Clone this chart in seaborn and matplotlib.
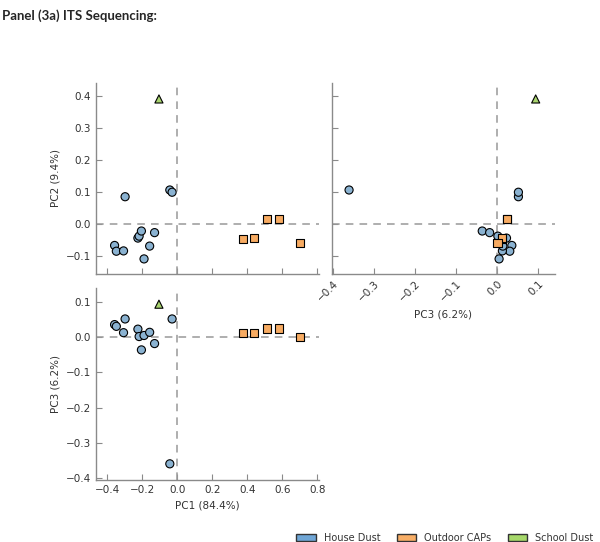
import pandas as pd
import numpy as np
import matplotlib
matplotlib.use('Agg')
import matplotlib.pyplot as plt
import matplotlib.patches as mpatches
import seaborn as sns

# Coordenadas PCoA (ITS)
house_pc1 = [-0.357, -0.347, -0.306, -0.297, -0.224, -0.217, -0.204, -0.189, -0.157, -0.129, -0.042, -0.029]
house_pc2 = [-0.067, -0.085, -0.084, 0.085, -0.044, -0.038, -0.022, -0.109, -0.069, -0.027, 0.106, 0.099]
house_pc3 = [0.036, 0.031, 0.013, 0.052, 0.023, 0.002, -0.036, 0.005, 0.014, -0.018, -0.360, 0.052]

caps_pc1 = [0.377, 0.44, 0.51, 0.58, 0.70]
caps_pc2 = [-0.047, -0.045, 0.015, 0.016, -0.058]
caps_pc3 = [0.012, 0.013, 0.025, 0.025, 0.001]

school_pc1 = [-0.104]
school_pc2 = [0.39]
school_pc3 = [0.094]

groups = ['House Dust', 'Outdoor CAPs', 'School Dust']
colors = {'House Dust': '#8ab2d1', 'Outdoor CAPs': '#f7ab62', 'School Dust': '#a9d46f'}
markers = {'House Dust': 'o', 'Outdoor CAPs': 's', 'School Dust': '^'}

df = pd.DataFrame({
    'PC1': house_pc1 + caps_pc1 + school_pc1,
    'PC2': house_pc2 + caps_pc2 + school_pc2,
    'PC3': house_pc3 + caps_pc3 + school_pc3,
    'grupo': ['House Dust'] * len(house_pc1) + ['Outdoor CAPs'] * len(caps_pc1) + ['School Dust'] * len(school_pc1),
})

sns.set_style('white')
plt.rcParams['font.family'] = ['DejaVu Sans']

fig = plt.figure(figsize=(6, 5.42), dpi=100)
ax1 = fig.add_axes([0.16, 0.4945, 0.372, 0.3525])   # PC1 vs PC2
ax2 = fig.add_axes([0.553, 0.4945, 0.372, 0.3525])  # PC3 vs PC2
ax3 = fig.add_axes([0.16, 0.1144, 0.372, 0.3542])   # PC1 vs PC3

spine_col = '#8a8a8a'
txt_col = '#333333'


def fmt(v, p=None):
    return f'{v:.1f}'.replace('-', '\u2212') if abs(v) > 1e-9 else '0.0'


def dibujar(ax, x, y):
    sns.scatterplot(data=df, x=x, y=y, hue='grupo', style='grupo', hue_order=groups,
                    style_order=groups, palette=colors, markers=markers, s=34,
                    edgecolor='black', linewidth=0.8, legend=False, ax=ax, zorder=3)
    ax.axhline(0, color='#999999', ls=(0, (5, 4)), lw=1.1, zorder=1)
    ax.axvline(0, color='#999999', ls=(0, (5, 4)), lw=1.1, zorder=1)
    sns.despine(ax=ax)
    for s in ['left', 'bottom']:
        ax.spines[s].set_color(spine_col)
        ax.spines[s].set_linewidth(1.0)
    ax.tick_params(direction='in', length=4, width=0.8, color=spine_col,
                   labelsize=7.5, labelcolor=txt_col, left=True, bottom=True)
    ax.set_xlabel('')
    ax.set_ylabel('')


dibujar(ax1, 'PC1', 'PC2')
dibujar(ax2, 'PC3', 'PC2')
dibujar(ax3, 'PC1', 'PC3')

# Panel PC1 vs PC2
ax1.set_xlim(-0.463, 0.81)
ax1.set_ylim(-0.156, 0.44)
ax1.set_xticks(np.arange(-0.4, 0.81, 0.2))
ax1.set_yticks(np.arange(-0.1, 0.41, 0.1))
ax1.set_xticklabels([])
ax1.set_ylabel('PC2 (9.4%)', fontsize=7.5, color=txt_col)

# Panel PC3 vs PC2
ax2.set_xlim(-0.402, 0.141)
ax2.set_ylim(-0.156, 0.44)
ax2.set_xticks(np.arange(-0.4, 0.11, 0.1))
ax2.set_yticks(np.arange(-0.1, 0.41, 0.1))
ax2.set_yticklabels([])
ax2.set_xticklabels([fmt(v) for v in np.arange(-0.4, 0.11, 0.1)],
                    rotation=45, ha='right', rotation_mode='anchor')
ax2.set_xlabel('PC3 (6.2%)', fontsize=7.5, color=txt_col)

# Panel PC1 vs PC3
ax3.set_xlim(-0.463, 0.81)
ax3.set_ylim(-0.406, 0.14)
ax3.set_xticks(np.arange(-0.4, 0.81, 0.2))
ax3.set_yticks(np.arange(-0.4, 0.11, 0.1))
ax3.set_xlabel('PC1 (84.4%)', fontsize=7.5, color=txt_col)
ax3.set_ylabel('PC3 (6.2%)', fontsize=7.5, color=txt_col)

for ax in (ax1, ax3):
    ax.yaxis.set_major_formatter(matplotlib.ticker.FuncFormatter(fmt))
ax3.xaxis.set_major_formatter(matplotlib.ticker.FuncFormatter(fmt))

# Leyenda
handles = [mpatches.Patch(facecolor=c, edgecolor='#333333', lw=1.0, label=g)
           for g, c in zip(groups, ['#6fa6d6', '#f8ae66', '#a6d86a'])]
fig.legend(handles=handles, loc='lower right', bbox_to_anchor=(1.003, -0.018), ncol=3,
           frameon=False, fontsize=7, handlelength=2.0, handleheight=0.8,
           columnspacing=1.7, handletextpad=0.8, labelcolor=txt_col)

fig.text(0.003, 0.982, 'Panel (3a) ITS Sequencing:', fontsize=9.5, fontweight='bold',
         family=['Lato', 'DejaVu Sans'], va='top', ha='left')

plt.savefig('out.png', dpi=100)
